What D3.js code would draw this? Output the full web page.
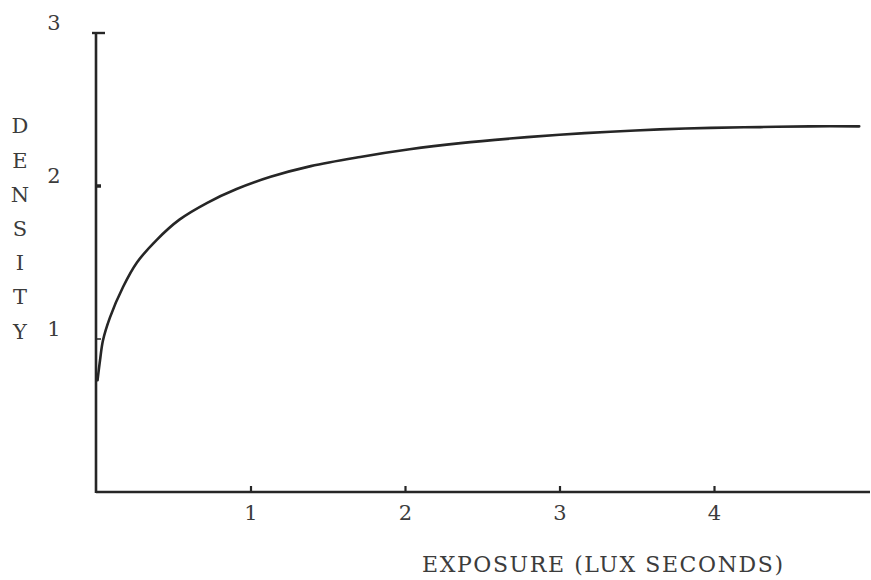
<!DOCTYPE html>
<html>
<head>
<meta charset="utf-8">
<script src="https://cdn.jsdelivr.net/npm/d3@7"></script>
<style>
  html, body { margin: 0; padding: 0; background: #ffffff; }
  svg { display: block; }
  text { font-family: "DejaVu Serif", "Liberation Serif", serif; fill: #3c3c3c; }
</style>
</head>
<body>
<svg id="chart" width="871" height="580"></svg>
<script>
// Characteristic curve: density vs exposure
const exposure = [0.01, 0.026, 0.045, 0.09, 0.175, 0.265, 0.395, 0.54, 0.72, 0.91, 1.13, 1.39,
                  1.71, 2.03, 2.36, 2.68, 3.0, 3.33, 3.65, 3.98, 4.30, 4.62, 4.94];
const density  = [0.73, 0.86, 0.99, 1.14, 1.34, 1.50, 1.65, 1.78, 1.89, 1.98, 2.06, 2.13,
                  2.19, 2.24, 2.28, 2.31, 2.335, 2.355, 2.37, 2.38, 2.385, 2.39, 2.39];
const xTicks = [1, 2, 3, 4];
const yTicks = [1, 2, 3];
const yTitle = ["D", "E", "N", "S", "I", "T", "Y"];
const xTitle = "EXPOSURE (LUX SECONDS)";

const svg = d3.select("#chart");
const ink = "#262626";

const x = d3.scaleLinear().domain([0, 5]).range([96, 868.5]);
const y = d3.scaleLinear().domain([0, 3]).range([492, 33]);

// x axis with short upward ticks
const xAxis = d3.axisBottom(x)
  .tickValues(xTicks)
  .tickFormat(d3.format("d"))
  .tickSizeInner(-6)
  .tickSizeOuter(0)
  .tickPadding(13);

const gx = svg.append("g")
  .attr("transform", `translate(0,${y(0)})`)
  .call(xAxis);
gx.select(".domain").remove();
gx.selectAll(".tick line").attr("stroke", ink).attr("stroke-width", 2.2);
gx.selectAll(".tick text")
  .attr("font-size", 21)
  .attr("font-family", "DejaVu Serif")
  .attr("fill", "#3c3c3c");

svg.append("line")
  .attr("x1", x(0)).attr("x2", 870)
  .attr("y1", y(0)).attr("y2", y(0))
  .attr("stroke", ink).attr("stroke-width", 2.6);

// y axis
svg.append("line")
  .attr("x1", x(0)).attr("x2", x(0))
  .attr("y1", y(0) + 1).attr("y2", y(3))
  .attr("stroke", ink).attr("stroke-width", 2.6);
svg.append("line")
  .attr("x1", x(0) - 4).attr("x2", x(0) + 9)
  .attr("y1", y(3)).attr("y2", y(3))
  .attr("stroke", ink).attr("stroke-width", 2.4);
svg.selectAll(".ytick")
  .data(yTicks.filter(d => d < 3))
  .enter().append("line")
  .attr("class", "ytick")
  .attr("x1", x(0)).attr("x2", x(0) + 5)
  .attr("y1", d => y(d)).attr("y2", d => y(d))
  .attr("stroke", ink).attr("stroke-width", d => d === 2 ? 3.5 : 1.5);

// y tick labels, typed a little above their ticks
svg.selectAll(".ylab")
  .data(yTicks)
  .enter().append("text")
  .attr("class", "ylab")
  .attr("x", 54)
  .attr("y", d => y(d) - 10)
  .attr("dy", "0.35em")
  .attr("text-anchor", "middle")
  .attr("font-size", 21)
  .text(d => d);

// vertical y title
svg.selectAll(".ytitle")
  .data(yTitle)
  .enter().append("text")
  .attr("class", "ytitle")
  .attr("x", 20)
  .attr("y", (d, i) => 126 + i * 34.2)
  .attr("dy", "0.35em")
  .attr("text-anchor", "middle")
  .attr("font-size", 21)
  .text(d => d);

// x title
svg.append("text")
  .attr("x", 422)
  .attr("y", 572)
  .attr("font-size", 22)
  .attr("textLength", 361)
  .attr("lengthAdjust", "spacing")
  .text(xTitle);

// curve
const pts = exposure.map((e, i) => [e, density[i]]);
const line = d3.line()
  .x(d => x(d[0]))
  .y(d => y(d[1]))
  .curve(d3.curveCatmullRom.alpha(0.5));

svg.append("path")
  .datum(pts)
  .attr("d", line)
  .attr("fill", "none")
  .attr("stroke", ink)
  .attr("stroke-width", 2.6)
  .attr("stroke-linecap", "round");
</script>
</body>
</html>
